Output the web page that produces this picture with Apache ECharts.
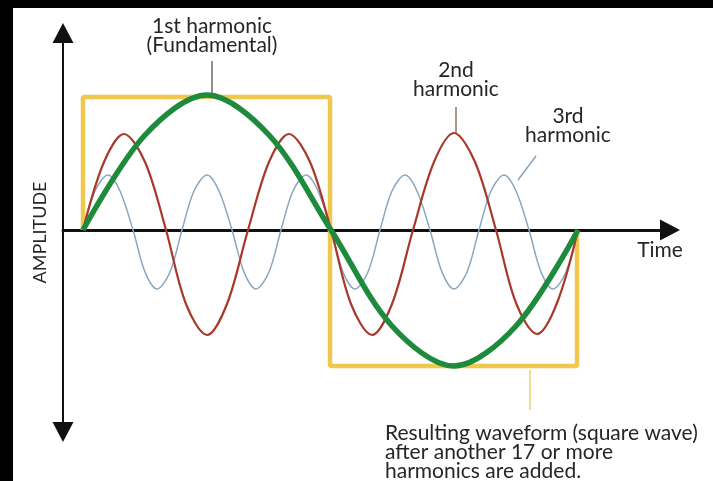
<!DOCTYPE html>
<html>
<head>
<meta charset="utf-8">
<script src="https://cdn.jsdelivr.net/npm/echarts@6/dist/echarts.min.js"></script>
<style>
    html, body { margin: 0; padding: 0; background: #000; }
    #paper { position: absolute; left: 13px; top: 8px; width: 700px; height: 473px; background: #fff; }
    #main { position: absolute; left: 0; top: 0; width: 713px; height: 481px; }
</style>
</head>
<body>
<div id="paper"></div>
<div id="main"></div>
<script>
// time measured from the start of the waves, amplitude from the time axis
const squareTime = [0, 0, 247, 247, 494, 494]
const squareAmp = [0, 133, 133, -136, -136, 0]

const greenTime = [0, 62, 124, 186, 248, 309, 371, 433, 495]
const greenAmp = [0, 95, 135, 95, 0, -96, -136, -96, 0]

const redTime = [0, 21, 41, 62, 83, 103, 124, 144, 165, 186, 206, 227, 248,
    268, 289, 309, 330, 351, 371, 392, 413, 433, 454, 474, 495]
const redAmp = [0, 68, 96, 68, 0, -74, -105, -74, 0, 68, 96, 68, 0,
    -74, -105, -74, 0, 68, 97, 68, 0, -73, -104, -73, 0]

const blueTime = [0, 12, 25, 37, 50, 62, 74, 87, 99, 111, 124, 136, 149, 161, 173,
    186, 198, 210, 223, 235, 248, 260, 272, 285, 297, 309, 322, 334, 347, 359,
    371, 384, 396, 408, 421, 433, 446, 458, 470, 483, 495]
const blueAmp = [0, 39, 55, 39, 0, -42, -59, -42, 0, 39, 55, 39, 0, -42, -59,
    -42, 0, 39, 55, 39, 0, -42, -59, -42, 0, 39, 55, 39, 0, -42,
    -59, -42, 0, 39, 55, 39, 0, -42, -59, -42, 0]

const FONT = 'Lato, "Open Sans", sans-serif'

const pairs = (xs, ys) => xs.map((x, i) => [x, ys[i]])

const wave = (name, xs, ys, color, width, smooth) => ({
    name: name,
    type: 'line',
    data: pairs(xs, ys),
    symbol: 'none',
    smooth: smooth,
    lineStyle: { color: color, width: width },
    silent: true
})

const label = (text, x, y, align) => ({
    type: 'text',
    style: {
        text: text,
        x: x,
        y: y,
        align: align || 'center',
        verticalAlign: 'middle',
        fontFamily: FONT,
        fontSize: 21,
        lineHeight: 19,
        fill: '#262626'
    }
})

const leader = (x1, y1, x2, y2, color) => ({
    type: 'line',
    shape: { x1: x1, y1: y1, x2: x2, y2: y2 },
    style: { stroke: color, lineWidth: 1.3 }
})

onload = () => {
    let myChart = echarts.init(document.getElementById('main'))
    let option = {
        animation: false,
        grid: { left: 63, right: 43, top: 33, bottom: 49 },
        xAxis: {
            type: 'value',
            min: -20,
            max: 587,
            axisLine: {
                onZero: true,
                symbol: ['none', 'triangle'],
                symbolSize: [21, 20],
                lineStyle: { color: '#111', width: 3 }
            },
            axisTick: { show: false },
            axisLabel: { show: false },
            splitLine: { show: false }
        },
        yAxis: {
            type: 'value',
            min: -202,
            max: 197,
            name: 'AMPLITUDE',
            nameLocation: 'middle',
            nameGap: 14,
            nameRotate: 90,
            nameTextStyle: { fontFamily: FONT, fontSize: 18, color: '#262626' },
            axisLine: {
                show: true,
                onZero: false,
                symbol: ['triangle', 'triangle'],
                symbolSize: [21, 20],
                lineStyle: { color: '#111', width: 2 }
            },
            axisTick: { show: false },
            axisLabel: { show: false },
            splitLine: { show: false }
        },
        series: [
            wave('Resulting waveform', squareTime, squareAmp, '#f0c84e', 4.5, false),
            wave('3rd harmonic', blueTime, blueAmp, '#88a6c0', 1.5, 0.33),
            wave('2nd harmonic', redTime, redAmp, '#a8392a', 2.2, 0.33),
            wave('1st harmonic', greenTime, greenAmp, '#1e8a3c', 5.5, 0.33)
        ],
        graphic: [
            label('1st harmonic\n(Fundamental)', 212, 36),
            leader(212, 61, 212, 96, '#555'),
            label('2nd\nharmonic', 456, 80),
            leader(456, 107, 456, 134, '#8a5a50'),
            label('3rd\nharmonic', 568, 126),
            leader(536, 156, 518, 180, '#7d9ab3'),
            label('Time', 660, 250),
            leader(530, 370, 530, 410, '#e8c75a'),
            label('Resulting waveform (square wave)\nafter another 17 or more\nharmonics are added.', 385, 452, 'left')
        ]
    }
    option && myChart.setOption(option)
}
</script>
</body>
</html>
